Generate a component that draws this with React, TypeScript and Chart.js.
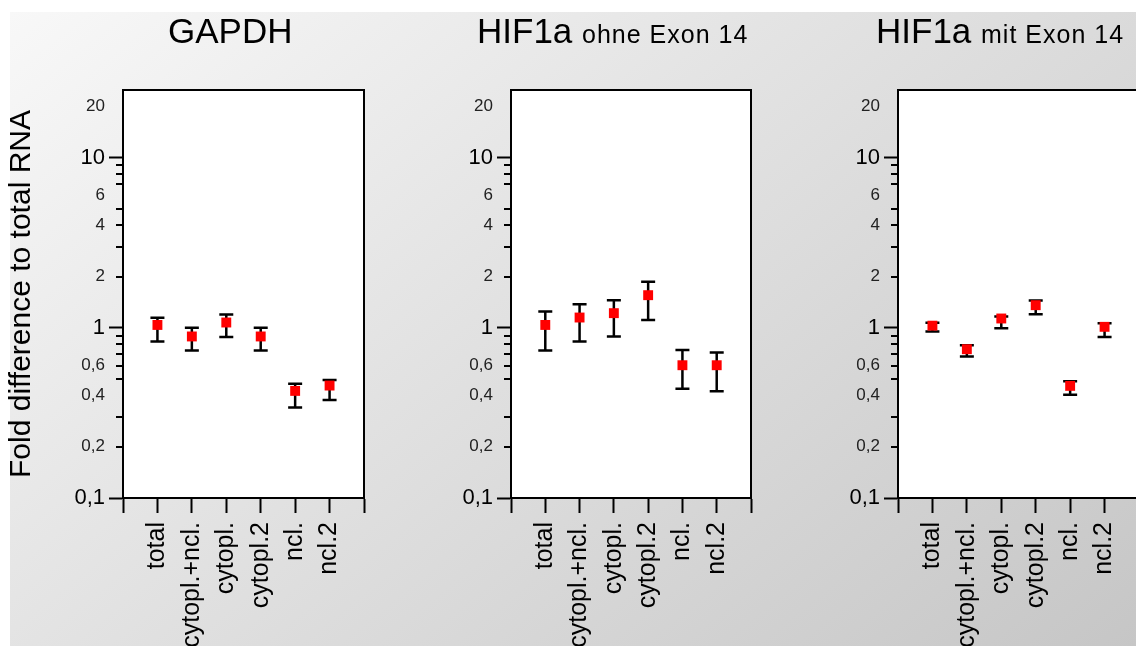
import React, { useEffect, useRef } from 'react';
import { Chart, registerables } from 'chart.js';

Chart.register(...registerables);

const FONT = '"Liberation Sans", Arial, Helvetica, sans-serif';

// ---- data ----
const categories = ['total', 'cytopl.+ncl.', 'cytopl.', 'cytopl.2', 'ncl.', 'ncl.2'];

const gapdhMean = [1.04, 0.89, 1.075, 0.89, 0.426, 0.458];
const gapdhHigh = [1.145, 1.0, 1.2, 1.0, 0.469, 0.494];
const gapdhLow = [0.83, 0.736, 0.885, 0.736, 0.34, 0.377];

const hifOhneMean = [1.04, 1.15, 1.22, 1.556, 0.603, 0.603];
const hifOhneHigh = [1.247, 1.378, 1.455, 1.865, 0.742, 0.716];
const hifOhneLow = [0.736, 0.831, 0.889, 1.114, 0.438, 0.424];

const hifMitMean = [1.03, 0.749, 1.135, 1.359, 0.456, 1.014];
const hifMitHigh = [1.07, 0.791, 1.166, 1.448, 0.486, 1.065];
const hifMitLow = [0.952, 0.678, 0.996, 1.203, 0.404, 0.885];

const yLabelValues = [0.1, 0.2, 0.4, 0.6, 1, 2, 4, 6, 10, 20];
const yMajorValues = [0.1, 1, 10];
const yMinorTickValues = [0.2, 0.3, 0.5, 0.6, 0.7, 0.8, 0.9, 2, 3, 4, 5, 7, 8, 9];
const xTickValues = [0, 1, 2, 3, 4, 5, 6, 7];

const yTitleText = 'Fold difference to total RNA';

type PanelProps = {
  left: number;
  width: number;
  axisWidth: number;
  means: number[];
  highs: number[];
  lows: number[];
  yTitle?: string;
};

function Panel({ left, width, axisWidth, means, highs, lows, yTitle }: PanelProps) {
  const ref = useRef<HTMLCanvasElement>(null);

  useEffect(() => {
    const frame = {
      id: 'frame',
      beforeDraw(chart: any) {
        const { ctx, chartArea: a } = chart;
        ctx.save();
        ctx.fillStyle = '#ffffff';
        ctx.fillRect(a.left, a.top, a.right - a.left, a.bottom - a.top);
        ctx.restore();
      },
      afterDraw(chart: any) {
        const { ctx, chartArea: a } = chart;
        const ys = chart.scales.y;
        ctx.save();
        ctx.strokeStyle = '#000';
        ctx.lineWidth = 2;
        ctx.beginPath();
        ctx.moveTo(a.left, a.top);
        ctx.lineTo(a.right, a.top);
        ctx.lineTo(a.right, a.bottom);
        ctx.stroke();
        ctx.beginPath();
        yMinorTickValues.forEach((v) => {
          const y = Math.round(ys.getPixelForValue(v));
          ctx.moveTo(a.left - 7, y);
          ctx.lineTo(a.left, y);
        });
        ctx.stroke();
        ctx.restore();
      },
    };

    const errorBars = {
      id: 'errorBars',
      beforeDatasetsDraw(chart: any) {
        const { ctx } = chart;
        const xs = chart.scales.x;
        const ys = chart.scales.y;
        ctx.save();
        ctx.strokeStyle = '#000';
        ctx.lineWidth = 2.5;
        ctx.beginPath();
        means.forEach((_, i) => {
          const x = xs.getPixelForValue(i + 1);
          const yh = ys.getPixelForValue(highs[i]);
          const yl = ys.getPixelForValue(lows[i]);
          ctx.moveTo(x, yh);
          ctx.lineTo(x, yl);
          ctx.moveTo(x - 7, yh);
          ctx.lineTo(x + 7, yh);
          ctx.moveTo(x - 7, yl);
          ctx.lineTo(x + 7, yl);
        });
        ctx.stroke();
        ctx.restore();
      },
    };

    const chart = new Chart(ref.current as HTMLCanvasElement, {
      type: 'scatter',
      data: {
        datasets: [
          {
            data: means.map((m, i) => ({ x: i + 1, y: m })),
            pointStyle: 'rect',
            pointRadius: 7,
            pointHoverRadius: 7,
            backgroundColor: '#ff0000',
            borderWidth: 0,
          },
        ],
      },
      options: {
        responsive: false,
        animation: false,
        events: [],
        layout: { padding: { top: 90, right: 2, left: 0, bottom: 0 } },
        plugins: { legend: { display: false }, tooltip: { enabled: false } },
        scales: {
          x: {
            type: 'linear',
            min: 0,
            max: 7,
            afterBuildTicks: (s: any) => {
              s.ticks = xTickValues.map((v) => ({ value: v }));
            },
            afterFit: (s: any) => {
              s.height = 148;
              s.paddingLeft = 0;
              s.paddingRight = 0;
            },
            ticks: {
              autoSkip: false,
              minRotation: 90,
              maxRotation: 90,
              padding: 9,
              color: '#000',
              font: { family: FONT, size: 25 },
              callback: (v: any) => categories[Number(v) - 1] ?? '',
            },
            grid: { drawOnChartArea: false, tickLength: 15, tickColor: '#000', tickWidth: 2 },
            border: { color: '#000', width: 2 },
          },
          y: {
            type: 'logarithmic',
            min: 0.1,
            max: 25,
            afterBuildTicks: (s: any) => {
              s.ticks = yLabelValues.map((v) => ({ value: v }));
            },
            afterFit: (s: any) => {
              s.width = axisWidth;
              s.paddingTop = 0;
              s.paddingBottom = 0;
            },
            ticks: {
              autoSkip: false,
              padding: 4,
              color: (c: any) => (c.tick && yMajorValues.includes(c.tick.value) ? '#000' : '#222'),
              font: (c: any) =>
                c.tick && yMajorValues.includes(c.tick.value)
                  ? { family: FONT, size: 22 }
                  : { family: FONT, size: 17 },
              callback: (v: any) => String(v).replace('.', ','),
            },
            grid: {
              drawOnChartArea: false,
              tickLength: 14,
              tickWidth: 2,
              tickColor: (c: any) =>
                c.tick && yMajorValues.includes(c.tick.value) ? '#000' : 'rgba(0,0,0,0)',
            },
            border: { color: '#000', width: 2 },
            title: {
              display: !!yTitle,
              text: yTitle || '',
              color: '#000',
              font: { family: FONT, size: 30 },
              padding: { top: 4, bottom: 0 },
            },
          },
        },
      } as any,
      plugins: [frame, errorBars],
    });
    return () => chart.destroy();
  }, []);

  return (
    <canvas
      ref={ref}
      width={width}
      height={646}
      style={{ position: 'absolute', left, top: 0, width, height: 646 }}
    />
  );
}

const bigTitle: React.CSSProperties = {
  position: 'absolute',
  top: 13,
  fontFamily: FONT,
  fontSize: 35,
  lineHeight: '35px',
  color: '#000',
  whiteSpace: 'nowrap',
};
const smallTitle: React.CSSProperties = { fontSize: 25, letterSpacing: '1px' };

export default function App() {
  useEffect(() => {
    document.body.style.margin = '0';
    document.body.style.overflow = 'hidden';
  }, []);
  return (
    <div
      style={{
        position: 'absolute',
        left: 0,
        top: 0,
        width: 1136,
        height: 646,
        overflow: 'hidden',
        background: '#ffffff',
      }}
    >
      <div
        style={{
          position: 'absolute',
          left: 10,
          top: 12,
          right: 0,
          bottom: 0,
          background: 'linear-gradient(141deg, #f8f8f8 0%, #c6c6c6 100%)',
        }}
      />
      <Panel left={0} width={371} axisWidth={123} means={gapdhMean} highs={gapdhHigh} lows={gapdhLow} yTitle={yTitleText} />
      <Panel left={388} width={370} axisWidth={123} means={hifOhneMean} highs={hifOhneHigh} lows={hifOhneLow} />
      <Panel left={775} width={371} axisWidth={123} means={hifMitMean} highs={hifMitHigh} lows={hifMitLow} />
      <div style={{ ...bigTitle, left: 168 }}>GAPDH</div>
      <div style={{ ...bigTitle, left: 477 }}>
        HIF1a <span style={smallTitle}>ohne Exon 14</span>
      </div>
      <div style={{ ...bigTitle, left: 876 }}>
        HIF1a <span style={smallTitle}>mit Exon 14</span>
      </div>
    </div>
  );
}
